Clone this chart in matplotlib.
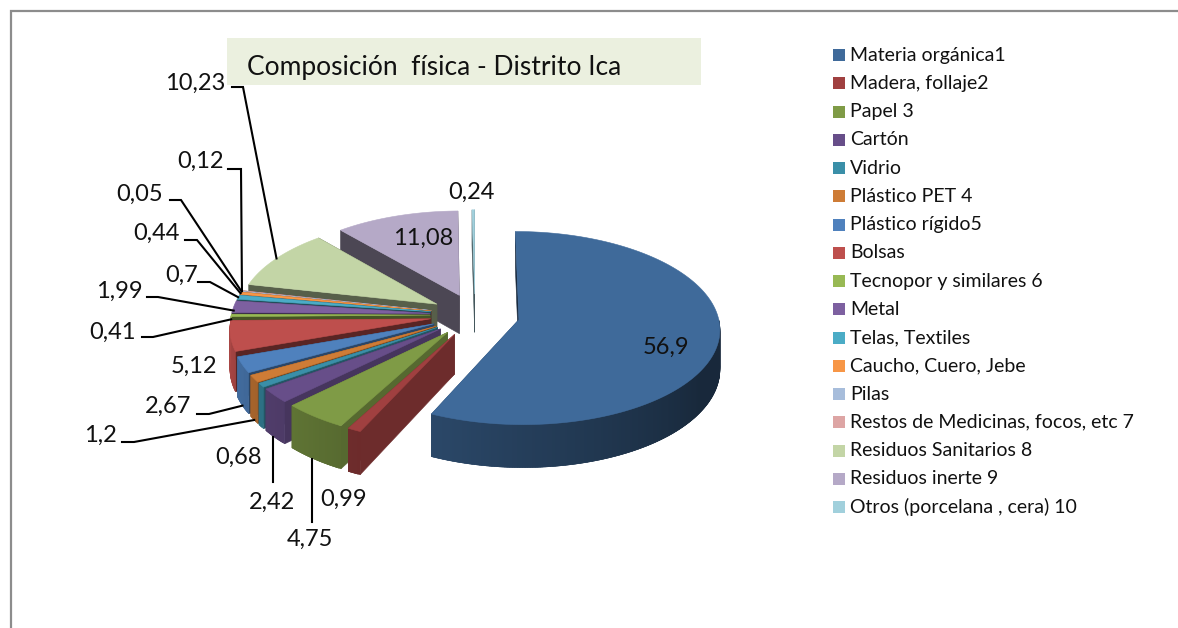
import numpy as np
import matplotlib as mat
mat.use('Agg')
import matplotlib.pyplot as plt
from matplotlib.patches import Polygon, Rectangle

names = ['Materia orgánica1', 'Madera, follaje2', 'Papel 3', 'Cartón', 'Vidrio',
         'Plástico PET 4', 'Plástico rígido5', 'Bolsas', 'Tecnopor y similares 6',
         'Metal', 'Telas, Textiles', 'Caucho, Cuero, Jebe', 'Pilas',
         'Restos de Medicinas, focos, etc 7', 'Residuos Sanitarios 8',
         'Residuos inerte 9', 'Otros (porcelana , cera) 10']
values = [56.9, 0.99, 4.75, 2.42, 0.68, 1.2, 2.67, 5.12, 0.41, 1.99, 0.7, 0.44,
          0.05, 0.12, 10.23, 11.08, 0.24]
colors = ['#3F6A9A', '#A04040', '#7F9B46', '#674E89', '#3A8FA8', '#CE7C36',
          '#4F81BD', '#BE4F4D', '#98B954', '#7D60A0', '#4BACC6', '#F79646',
          '#A7BDDB', '#DDA5A4', '#C3D5A6', '#B5A9C7', '#A1D0DC']

# label centre for each slice
label_pos = [(666, 347), (344, 499), (310, 539), (272, 502), (238, 457), (100, 435),
             (168, 406), (194, 366), (112, 332), (119, 291), (182, 275), (156, 233),
             (140, 194), (200, 161), (195, 83), (423, 238), (471, 192)]
# leader lines: slice index, start, elbow, height on the rim (0 top, 1 bottom)
leaders = [(14, (232, 87), (243, 87), 0), (13, (228, 169), (241, 169), 0),
           (12, (170, 200), (181, 200), 0), (11, (185, 240), (197, 240), 0),
           (10, (198, 282), (210, 282), 0), (9, (147, 297), (158, 297), 0.1),
           (8, (142, 337), (153, 337), 0.1), (6, (197, 414), (209, 414), 1),
           (5, (122, 442), (134, 442), 1), (3, (273, 482), (273, 482), 1),
           (2, (312, 522), (312, 522), 1)]

cx, cy = 475, 315
rx, ry = 199, 95
depth = 39
explode = 0.225
persp = 0.087


def project(xw, yw, z=0):
    s = 1 / (1 + persp * yw)
    return cx + rx * xw * s, cy - ry * yw * s + depth * z * s


def slice_points(th, off):
    xw = np.sin(th) + explode * np.sin(off)
    yw = np.cos(th) + explode * np.cos(off)
    return xw, yw


def shade(c, f):
    return tuple(np.array(mat.colors.to_rgb(c)) * f)


def face(ax, pts, col):
    ax.add_patch(Polygon(pts, closed=True, facecolor=col, edgecolor=col, lw=0.4))


fig = plt.figure(figsize=(11.78, 6.28), dpi=100)
plt.rcParams['font.family'] = ['Lato', 'DejaVu Sans']
ax = fig.add_axes([0, 0, 1, 1])
ax.set_xlim(0, 1178)
ax.set_ylim(628, 0)
ax.axis('off')

# chart frame, runs off the picture on the right and at the bottom
ax.add_patch(Rectangle((11, 11), 1300, 800, facecolor='white', edgecolor='#8C8C8C', lw=1.6))
ax.add_patch(Rectangle((227, 38), 474, 47, facecolor='#EBF0DF', edgecolor='none'))
ax.text(247, 67, 'Composición  física - Distrito Ica', fontsize=19, va='center', color='#111111')

total = sum(values)
edges = np.cumsum([0] + values) / total * 2 * np.pi
mids = (edges[:-1] + edges[1:]) / 2

# back slices first, the big one last
order = [16, 15, 14, 13, 12, 11, 10, 9, 8, 7, 6, 5, 4, 3, 2, 1, 0]
for i in order:
    a0, a1 = edges[i], edges[i + 1]
    off = mids[i]
    col = colors[i]
    n = max(2, int(np.degrees(a1 - a0) * 1.5) + 1)
    ths = np.linspace(a0, a1, n)
    xw, yw = slice_points(ths, off)
    ox = explode * np.sin(off)
    oy = explode * np.cos(off)

    # radial faces, far one first
    f1 = np.interp(np.degrees(a1), [225, 250, 320], [0.68, 0.47, 0.42])
    f0 = np.interp(np.degrees(a0), [225, 250, 320], [0.68, 0.47, 0.42])
    if np.degrees(a0) < 1:
        f0 = 0.4
    for th, f in ((a1, f1), (a0, f0)):
        ex, ey = slice_points(th, off)
        face(ax, [project(ox, oy), project(ex, ey), project(ex, ey, 1), project(ox, oy, 1)], shade(col, f))

    # rim, front half only, strips overlap so no seams show
    for j in range(n - 1):
        deg = np.degrees((ths[j] + ths[j + 1]) / 2)
        if np.cos(np.radians(deg)) > 0:
            continue
        k = min(j + 2, n - 1)
        f = float(np.clip(0.38 + 0.0035 * (deg - 120), 0.38, 0.9))
        face(ax, [project(xw[j], yw[j]), project(xw[k], yw[k]),
                  project(xw[k], yw[k], 1), project(xw[j], yw[j], 1)], shade(col, f))

    # top
    px, py = project(xw, yw)
    top = [project(ox, oy)] + list(zip(px, py))
    face(ax, top, col)

for i, p0, p1, z in leaders:
    mx, my = slice_points(mids[i], mids[i])
    ex, ey = project(mx, my, z)
    if p0 == p1:
        ex = p0[0]
    ax.plot([p0[0], p1[0], ex], [p0[1], p1[1], ey], color='black', lw=1.5, solid_joinstyle='miter')

for i, v in enumerate(values):
    ax.text(label_pos[i][0], label_pos[i][1], str(v).replace('.', ','), fontsize=17,
            ha='center', va='center', color='#111111')

# legend
for i, name in enumerate(names):
    y = 55 + i * 28.25
    ax.add_patch(Rectangle((833, y - 6), 12, 12, facecolor=colors[i], edgecolor='none'))
    ax.text(850, y, name, fontsize=14, va='center', color='#111111')

plt.savefig('out.png', dpi=100)
